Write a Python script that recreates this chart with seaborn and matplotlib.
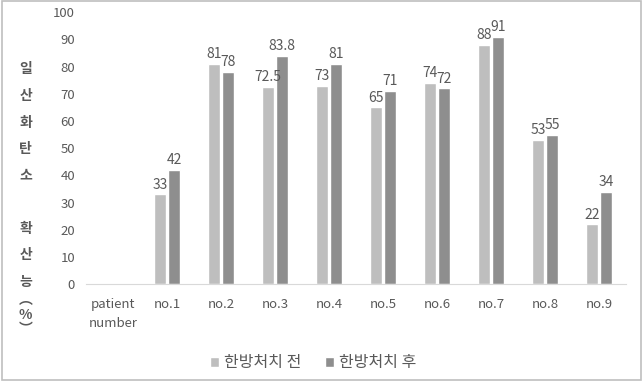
import pandas as pd
import seaborn as sns
import matplotlib.pyplot as plt
import numpy as np

# --- Daten ---
categories = ["patient\nnumber", "no.1", "no.2", "no.3", "no.4", "no.5", "no.6", "no.7", "no.8", "no.9"]
before = [np.nan, 33, 81, 72.5, 73, 65, 74, 88, 53, 22]
after = [np.nan, 42, 78, 83.8, 81, 71, 72, 91, 55, 34]
series_names = ["한방처치 전", "한방처치 후"]
colors = ["#BEBEBE", "#8E8E8E"]

df = pd.DataFrame({
    "patient": categories * 2,
    "value": before + after,
    "group": [series_names[0]] * len(categories) + [series_names[1]] * len(categories),
})

sns.set_style("white")
plt.rcParams['font.family'] = ['Noto Sans CJK KR', 'DejaVu Sans']

fig = plt.figure(figsize=(6.43, 3.81), dpi=100)
ax = fig.add_axes([0.134, 0.254, 0.84, 0.714])

sns.barplot(data=df, x="patient", y="value", hue="group", order=categories,
            hue_order=series_names, palette=colors, width=0.52, gap=0.12,
            saturation=1, ax=ax, errorbar=None)

# Datenbeschriftungen
for cont in ax.containers:
    labels = []
    for v in cont.datavalues:
        if np.isnan(v):
            labels.append("")
        else:
            labels.append(f"{v:g}")
    ax.bar_label(cont, labels=labels, fontsize=10, color="#595959", padding=2)

ax.set_ylim(0, 100)
ax.set_yticks(range(0, 101, 10))
ax.set_xlim(-0.5, len(categories) - 0.5)
ax.set_xlabel("")
ax.set_ylabel("")
ax.tick_params(axis="both", labelsize=9.5, colors="#595959", length=0, pad=8)
ax.tick_params(axis="x", pad=10)
for t in ax.get_xticklabels():
    t.set_linespacing(1.55)
for s in ["top", "right", "left"]:
    ax.spines[s].set_visible(False)
ax.spines["bottom"].set_color("#D9D9D9")

# vertikale Achsenbeschriftung
ylab = "\n".join(list("일산화탄소")) + "\n\n" + "\n".join(list("확산능"))
fig.text(0.04, 0.836, ylab, ha="center", va="top", fontsize=10,
         color="#595959", linespacing=2.14, fontweight="bold")
fig.text(0.04, 0.232, "︵\n%\n︶", ha="center", va="top", fontsize=10,
         color="#595959", linespacing=1.1, fontweight="bold")

ax.legend(loc="upper center", bbox_to_anchor=(0.42, -0.205), ncol=2, frameon=False,
          fontsize=11.5, labelcolor="#595959", handlelength=0.55, handleheight=0.55,
          handletextpad=0.3, columnspacing=1.5)

# Rahmen
fig.patches.append(plt.Rectangle((0.003, 0.003), 0.994, 0.994, transform=fig.transFigure,
                                 fill=False, edgecolor="#BFBFBF", linewidth=1.2))

plt.savefig("out.png", dpi=100)
